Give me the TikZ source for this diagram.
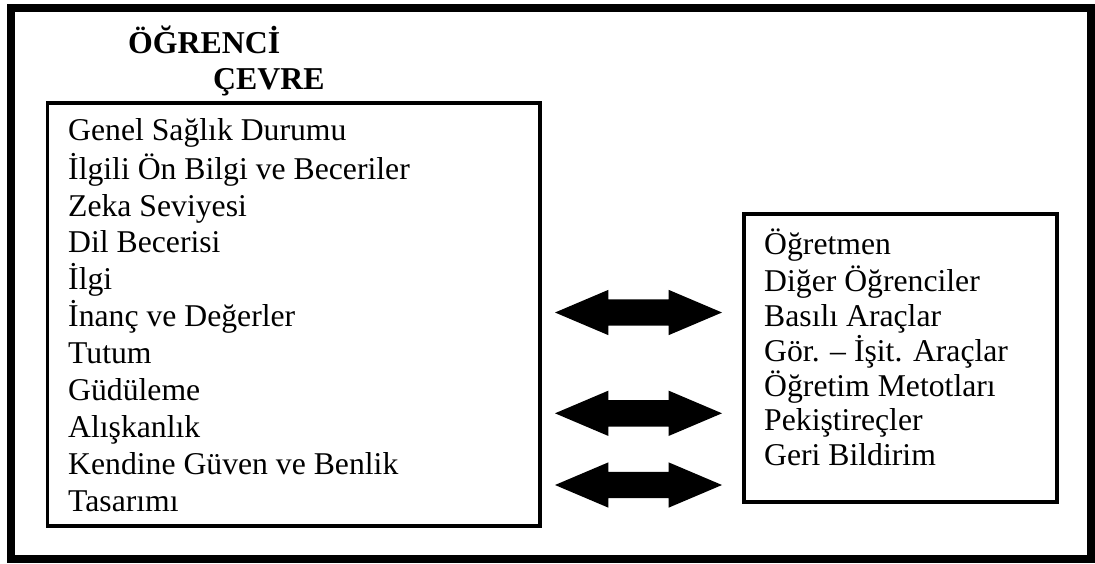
\documentclass[tikz,border=0pt]{standalone}
\usepackage{fontspec}
\setmainfont{Liberation Serif}
\usetikzlibrary{shapes.arrows,positioning}

\begin{document}
\begin{tikzpicture}[
        x=1pt, y=-1pt,
        % Kutu stilleri
        frame/.style={draw=black, line width=8pt},
        listbox/.style={rectangle, draw=black, line width=3.8pt, anchor=north west, inner sep=0pt},
        listtext/.style={anchor=north west, inner sep=0pt, align=left, font=\fontsize{31.7}{36.9}\selectfont},
        envtext/.style={listtext, font=\fontsize{31.7}{34.8}\selectfont},
        titletext/.style={anchor=base west, inner sep=0pt, font=\bfseries\fontsize{31.8}{35}\selectfont},
        % Ok stili
        dblarrow/.style={double arrow, fill=black, draw=none, inner xsep=0pt, inner ysep=13pt, minimum width=45pt, minimum height=167pt, double arrow head extend=9.5pt, double arrow tip angle=46}
    ]
    \useasboundingbox (0,0) rectangle (1095,563);

    % Dis cerceve
    \draw[frame] (11,8) rectangle (1091,559);

    % Basliklar
    \node[titletext] (learner) at (128,53.3) {ÖĞRENCİ};
    \node[titletext] (env) at (213,89.8) {ÇEVRE};

    % Sol kutu: ogrenci ozellikleri
    \node[listbox, minimum width=492.5pt, minimum height=423pt] (learnerbox) at (45.5,101) {};
    \node[listtext] (learnerlist) at (68,114.9) {\strut Genel Sağlık Durumu\\ İlgili Ön Bilgi ve Beceriler\\ Zeka Seviyesi\\ Dil Becerisi\\ İlgi\\ İnanç ve Değerler\\ Tutum\\ Güdüleme\\ Alışkanlık\\ Kendine Güven ve Benlik\\ Tasarımı};

    % Sag kutu: cevre ogeleri
    \node[listbox, minimum width=313pt, minimum height=288pt] (envbox) at (742,212) {};
    \node[envtext] (envlist) at (764,228.6) {\strut Öğretmen\\ Diğer Öğrenciler\\ Basılı Araçlar\\ Gör. – İşit. Araçlar\\ Öğretim Metotları\\ Pekiştireçler\\ Geri Bildirim};

    % Etkilesim oklari
    \node[dblarrow] (linkA) at (638.5,312.5) {};
    \node[dblarrow] (linkB) at (638.5,413.3) {};
    \node[dblarrow] (linkC) at (638.5,485) {};

\end{tikzpicture}
\end{document}
